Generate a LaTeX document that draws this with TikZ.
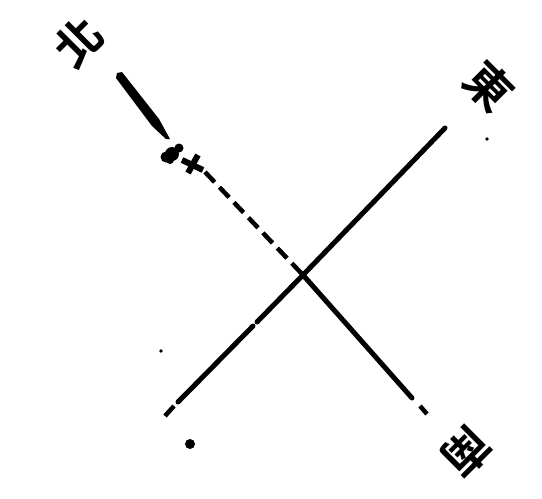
\documentclass[tikz,border=0pt]{standalone}
\usepackage{fontspec}
\newfontfamily\cjk{Noto Sans CJK TC}[BoldFont={Noto Sans CJK TC Bold}]
\begin{document}
\begin{tikzpicture}[x=1pt,y=-1pt,
  axisline/.style={line width=5pt, line cap=round},
  dashline/.style={line width=4.5pt, dash pattern=on 14pt off 7pt},
  dirlabel/.style={font=\cjk\bfseries\fontsize{46}{46}\selectfont, inner sep=0pt}]
\useasboundingbox (0,0) rectangle (542,499);
% endpoints
\coordinate (nw) at (120,75);
\coordinate (nwtaper) at (170,139);
\coordinate (nwdash) at (205,172);
\coordinate (c) at (303,275);
\coordinate (se) at (412,398);
\coordinate (sedash) at (420,406);
\coordinate (seend) at (427,414);
\coordinate (ne) at (445,128);
\coordinate (swgap) at (257,322);
\coordinate (swresume) at (253,326);
\coordinate (swdash) at (178,402);
\coordinate (sw) at (165,416);
% NW-SE line: tapered start, broken marks, dashed part, solid part
\fill (117,73) -- (122,72) -- (159,119) -- (nwtaper) -- (166,139) -- (152,126) -- (116,78) -- cycle;
\fill (172,154) circle (7);
\fill (166,157) circle (5.5);
\fill (179,148) circle (4.5);
\fill (170,160) circle (4);
\draw[line width=6pt] (182,160) -- (203,170);
\draw[line width=6pt] (188,173) -- (198,155);
\draw[dashline] (nwdash) -- (c);
\draw[axisline] (c) -- (se);
\draw[line width=4.5pt] (sedash) -- (seend);
% SW-NE line
\draw[axisline] (ne) -- (c);
\draw[axisline] (c) -- (swgap);
\draw[axisline] (swresume) -- (swdash);
\draw[line width=4.5pt] (174,406) -- (sw);
% specks
\fill (190,444) circle (5);
\fill (161,351) circle (1.8);
\fill (487,139) circle (1.8);
% labels
\node[dirlabel, rotate=45] (north) at (78,42) {北};
\node[dirlabel, rotate=-45] (east) at (489,86) {東};
\node[dirlabel, rotate=-135] (south) at (467,452) {南};
\end{tikzpicture}
\end{document}
